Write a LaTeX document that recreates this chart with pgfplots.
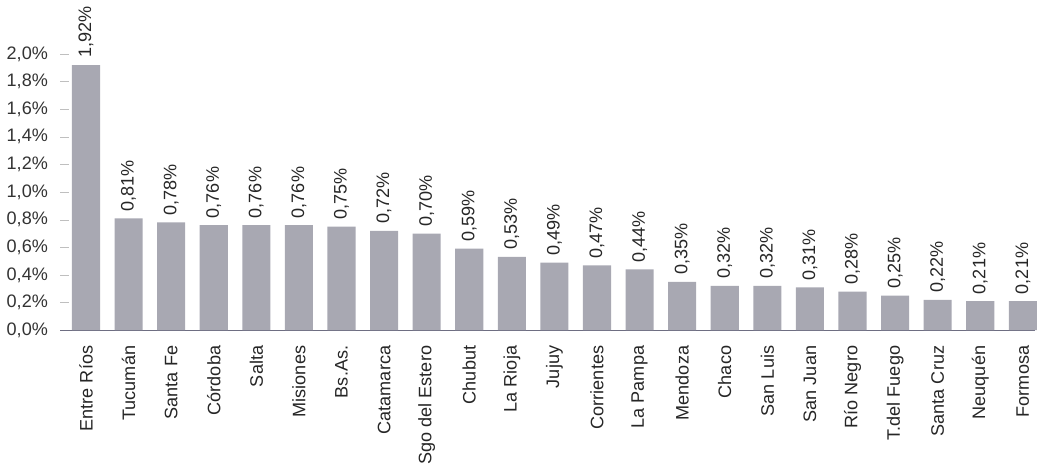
\documentclass[border=0pt]{standalone}
\usepackage{pgfplots}
\pgfplotsset{compat=1.18}
\usepackage{fontspec}
\setmainfont{Liberation Sans}
\definecolor{bargray}{RGB}{168,168,178}
\definecolor{baseline}{RGB}{110,110,130}
\begin{document}
\begin{tikzpicture}
\begin{axis}[
  width=485.3pt, height=137.5pt, scale only axis,
  xmin=-0.61, xmax=22.28, ymin=0, ymax=2.0,
  axis x line*=bottom, axis y line*=left,
  y axis line style={draw=none},
  x axis line style={color=baseline, line width=0.6pt},
  ytick={0,0.2,0.4,0.6,0.8,1.0,1.2,1.4,1.6,1.8,2.0},
  yticklabel={\pgfmathprintnumber[fixed,fixed zerofill,precision=1,use comma]{\tick}\%},
  /pgf/number format/assume math mode=true,
  yticklabel style={font=\fontsize{9}{10}\selectfont, text=black!80, xshift=-2.5pt},
  ytick style={color=black!25},
  xtick=data,
  xticklabels={Entre Ríos,Tucumán,Santa Fe,Córdoba,Salta,Misiones,Bs.As.,Catamarca,Sgo del Estero,Chubut,La Rioja,Jujuy,Corrientes,La Pampa,Mendoza,Chaco,San Luis,San Juan,Río Negro,T.del Fuego,Santa Cruz,Neuquén,Formosa},
  xticklabel style={rotate=90, anchor=east, font=\fontsize{9}{10}\selectfont, text=black!85},
  xtick style={draw=none},
  ybar, bar width=14pt,
  nodes near coords={\pgfmathprintnumber[fixed,fixed zerofill,precision=2,use comma]{\pgfplotspointmeta}\%},
  nodes near coords style={rotate=90, anchor=west, font=\fontsize{9}{10}\selectfont, text=black!85},
  clip=false,
]
\addplot[fill=bargray, draw=none] table {
x y
0 1.92
1 0.81
2 0.78
3 0.76
4 0.76
5 0.76
6 0.75
7 0.72
8 0.70
9 0.59
10 0.53
11 0.49
12 0.47
13 0.44
14 0.35
15 0.32
16 0.32
17 0.31
18 0.28
19 0.25
20 0.22
21 0.21
22 0.21
};
\end{axis}
\end{tikzpicture}
\end{document}
